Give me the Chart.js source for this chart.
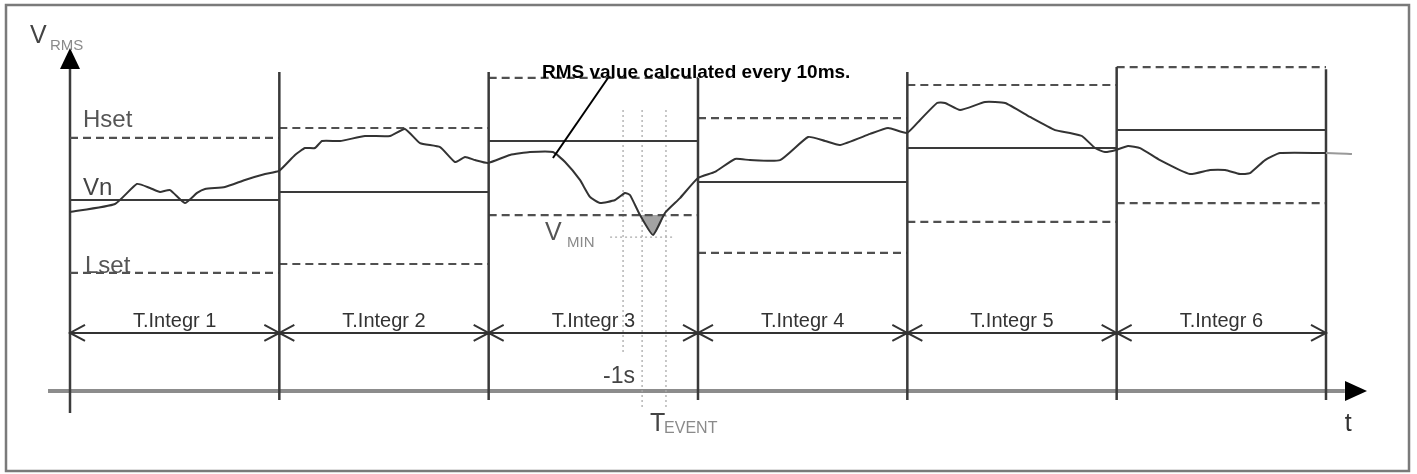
<!DOCTYPE html>
<html>
<head>
<meta charset="utf-8">
<script src="https://cdn.jsdelivr.net/npm/chart.js@4"></script>
<style>
body{margin:0;background:#fff;}
canvas{display:block;}
</style>
</head>
<body>
<canvas id="c" width="1417" height="474"></canvas>
<script>
// time in integration windows, voltage in % of first Vn
const windowEdges = [0, 1, 2, 3, 4, 5, 6];
const windowLabels = ['T.Integr 1', 'T.Integr 2', 'T.Integr 3', 'T.Integr 4', 'T.Integr 5', 'T.Integr 6'];
const hsetLevels = [132.5, 137.7, 163.9, 142.9, 160.2, 169.6];
const vnLevels = [100, 104.2, 130.9, 109.4, 127.2, 136.6];
const lsetLevels = [61.8, 66.5, 92.1, 72.3, 88.5, 98.4];
const edgeTops = [167, 167, 163.9, 167, 169.6, 168.5];
const edgeBottom = -4.7;

const rmsT = [0, 0.215, 0.320, 0.382, 0.430, 0.478, 0.549, 0.607, 0.645, 0.740, 0.836, 0.932, 0.998,
  1.075, 1.123, 1.170, 1.204, 1.290, 1.409, 1.529, 1.600, 1.672, 1.768, 1.839, 1.887, 1.935, 1.997,
  2.102, 2.197, 2.307, 2.365, 2.436, 2.484, 2.532, 2.604, 2.651, 2.675, 2.723, 2.785, 2.842, 2.914, 3.000,
  3.081, 3.177, 3.248, 3.392, 3.526, 3.607, 3.678, 3.822, 3.908, 3.998,
  4.061, 4.142, 4.180, 4.252, 4.371, 4.467, 4.586, 4.706, 4.777, 4.834, 4.897, 4.944, 4.997,
  5.054, 5.112, 5.207, 5.350, 5.446, 5.518, 5.589, 5.637, 5.709, 5.780, 6.000, 6.124];
const rmsV = [93.7, 97.9, 108.4, 106.3, 104.2, 105.2, 98.4, 103.7, 105.8, 106.8, 110.5, 113.6, 115.2,
  123.6, 127.2, 127.2, 130.9, 130.9, 133.5, 133.5, 137.2, 129.8, 127.7, 119.9, 122.5, 120.9, 119.4,
  123.6, 125.1, 125.1, 119.9, 110.5, 101.6, 98.4, 100.0, 103.7, 102.6, 92.1, 81.7, 93.2, 101.0, 111.5,
  114.7, 121.5, 120.9, 120.9, 133.0, 130.9, 128.8, 134.6, 137.7, 135.1,
  141.9, 150.8, 150.8, 147.1, 151.3, 150.8, 143.5, 136.6, 135.1, 133.5, 127.2, 125.1, 126.2,
  128.3, 127.2, 120.9, 113.6, 115.7, 115.7, 113.6, 114.1, 120.9, 124.6, 124.6, 124.1];

// dip below Lset in window 3
const dipT = [2.723, 2.785, 2.842];
const dipV = [92.1, 81.7, 92.1];

// event markers
const eventT = [2.642, 2.733, 2.847];
const eventTop = 147.1;
const eventBottoms = [18.8, -9.9, -9.9];
const vMin = 80.6;
const vMinSpan = [2.58, 2.881];
const dimV = 30.4;
const pointerFrom = [2.570, 163.9];
const pointerTo = [2.307, 122.0];

function stepData(levels) {
  const d = [];
  levels.forEach((v, i) => {
    d.push({x: windowEdges[i], y: v}, {x: windowEdges[i + 1], y: v}, {x: windowEdges[i + 1], y: null});
  });
  return d;
}

const edgeData = [];
edgeTops.forEach((top, i) => {
  const t = windowEdges[i + 1];
  edgeData.push({x: t, y: top}, {x: t, y: edgeBottom}, {x: t, y: null});
});

const dottedData = [];
eventT.forEach((t, i) => {
  dottedData.push({x: t, y: eventTop}, {x: t, y: eventBottoms[i]}, {x: t, y: null});
});
dottedData.push({x: vMinSpan[0], y: vMin}, {x: vMinSpan[1], y: vMin});

const FONT = '"Liberation Sans", Arial, sans-serif';

const drawing = {
  id: 'drawing',
  beforeDatasetsDraw(chart) {
    const ctx = chart.ctx, xs = chart.scales.x, ys = chart.scales.y;
    ctx.save();
    // frame
    ctx.strokeStyle = '#7a7a7a';
    ctx.lineWidth = 2.5;
    ctx.strokeRect(6, 5, 1403, 466);
    // time axis
    const y0 = ys.getPixelForValue(0);
    const x0 = xs.getPixelForValue(0);
    ctx.strokeStyle = '#8c8c8c';
    ctx.lineWidth = 4;
    ctx.beginPath();
    ctx.moveTo(xs.getPixelForValue(-0.105), y0);
    ctx.lineTo(xs.getPixelForValue(6.09), y0);
    ctx.stroke();
    ctx.fillStyle = '#000';
    const tipX = xs.getPixelForValue(6.196);
    ctx.beginPath();
    ctx.moveTo(tipX, y0);
    ctx.lineTo(tipX - 22, y0 - 10);
    ctx.lineTo(tipX - 22, y0 + 10);
    ctx.closePath();
    ctx.fill();
    // voltage axis
    ctx.strokeStyle = '#3c3c3c';
    ctx.lineWidth = 2.5;
    ctx.beginPath();
    ctx.moveTo(x0, ys.getPixelForValue(-11.5));
    ctx.lineTo(x0, ys.getPixelForValue(170));
    ctx.stroke();
    const tipY = ys.getPixelForValue(179.6);
    ctx.beginPath();
    ctx.moveTo(x0, tipY);
    ctx.lineTo(x0 - 10, tipY + 21);
    ctx.lineTo(x0 + 10, tipY + 21);
    ctx.closePath();
    ctx.fill();
    ctx.restore();
  },
  afterDatasetsDraw(chart) {
    const ctx = chart.ctx, xs = chart.scales.x, ys = chart.scales.y;
    const px = t => xs.getPixelForValue(t), py = v => ys.getPixelForValue(v);
    ctx.save();
    // window dimension line with open arrowheads
    const dy = py(dimV);
    ctx.strokeStyle = '#333';
    ctx.lineWidth = 2;
    ctx.beginPath();
    ctx.moveTo(px(0), dy);
    ctx.lineTo(px(6), dy);
    windowEdges.forEach((t, i) => {
      const x = px(t);
      if (i > 0) { ctx.moveTo(x - 15, dy - 8); ctx.lineTo(x, dy); ctx.lineTo(x - 15, dy + 8); }
      if (i < windowEdges.length - 1) { ctx.moveTo(x + 15, dy - 8); ctx.lineTo(x, dy); ctx.lineTo(x + 15, dy + 8); }
    });
    ctx.stroke();
    // pointer to the curve
    ctx.strokeStyle = '#000';
    ctx.lineWidth = 2;
    ctx.beginPath();
    ctx.moveTo(px(pointerFrom[0]), py(pointerFrom[1]));
    ctx.lineTo(px(pointerTo[0]), py(pointerTo[1]));
    ctx.stroke();

    ctx.textBaseline = 'alphabetic';
    const text = (s, x, y, size, color, weight, align) => {
      ctx.font = (weight || '') + ' ' + size + 'px ' + FONT;
      ctx.fillStyle = color;
      ctx.textAlign = align || 'left';
      ctx.fillText(s, x, y);
    };
    windowLabels.forEach((s, i) => {
      text(s, (px(windowEdges[i]) + px(windowEdges[i + 1])) / 2, dy - 6, 20, '#333', '', 'center');
    });
    const x0 = px(0);
    text('V', x0 - 40, 43, 25, '#444');
    text('RMS', x0 - 20, 50, 15, '#8a8a8a');
    text('Hset', x0 + 13, py(hsetLevels[0]) - 11, 24, '#555');
    text('Vn', x0 + 13, py(vnLevels[0]) - 5, 24, '#444');
    text('Lset', x0 + 15, py(lsetLevels[0]), 24, '#555');
    text('RMS value calculated every 10ms.', px(pointerFrom[0]) - 66, py(pointerFrom[1]), 19, '#000', 'bold');
    text('V', px(vMinSpan[0]) - 65, py(vMin) + 3, 25, '#555');
    text('MIN', px(vMinSpan[0]) - 43, py(vMin) + 10, 15, '#8a8a8a');
    text('-1s', px(eventT[0]) - 20, py(0) - 8, 23, '#444');
    text('T', px(eventT[1]) + 8, py(0) + 40, 25, '#444');
    text('EVENT', px(eventT[1]) + 22, py(0) + 42, 16, '#8a8a8a');
    text('t', px(6.09), py(0) + 40, 25, '#333');
    ctx.restore();
  }
};

new Chart(document.getElementById('c'), {
  type: 'line',
  data: {
    datasets: [
      {
        data: rmsT.map((t, i) => ({x: t, y: rmsV[i]})),
        borderColor: '#333',
        borderWidth: 2,
        segment: {borderColor: c => c.p0.parsed.x >= 6 ? '#999' : '#333'},
        tension: 0.15,
        order: 0
      },
      {
        data: dipT.map((t, i) => ({x: t, y: dipV[i]})),
        borderWidth: 0,
        borderColor: 'rgba(0,0,0,0)',
        backgroundColor: '#a3a3a3',
        fill: {value: lsetLevels[2]},
        tension: 0.3,
        order: 5
      },
      {
        data: stepData(vnLevels),
        borderColor: '#3a3a3a',
        borderWidth: 2,
        order: 1
      },
      {
        data: stepData(hsetLevels),
        borderColor: '#505050',
        borderWidth: 2.2,
        borderDash: [8, 5],
        order: 2
      },
      {
        data: stepData(lsetLevels),
        borderColor: '#505050',
        borderWidth: 2.2,
        borderDash: [8, 5],
        order: 2
      },
      {
        data: edgeData,
        borderColor: '#3a3a3a',
        borderWidth: 2.5,
        order: 1
      },
      {
        data: dottedData,
        borderColor: '#aaa',
        borderWidth: 1.3,
        borderDash: [2, 3],
        order: 6
      }
    ]
  },
  options: {
    responsive: false,
    animation: false,
    events: [],
    spanGaps: false,
    layout: {padding: 0, autoPadding: false},
    elements: {point: {radius: 0}, line: {fill: false}},
    plugins: {legend: {display: false}, tooltip: {enabled: false}},
    scales: {
      x: {type: 'linear', display: false, min: -70 / 209.333, max: 1347 / 209.333},
      y: {type: 'linear', display: false, min: -83 / 1.91, max: 391 / 1.91}
    }
  },
  plugins: [drawing]
});
</script>
</body>
</html>
